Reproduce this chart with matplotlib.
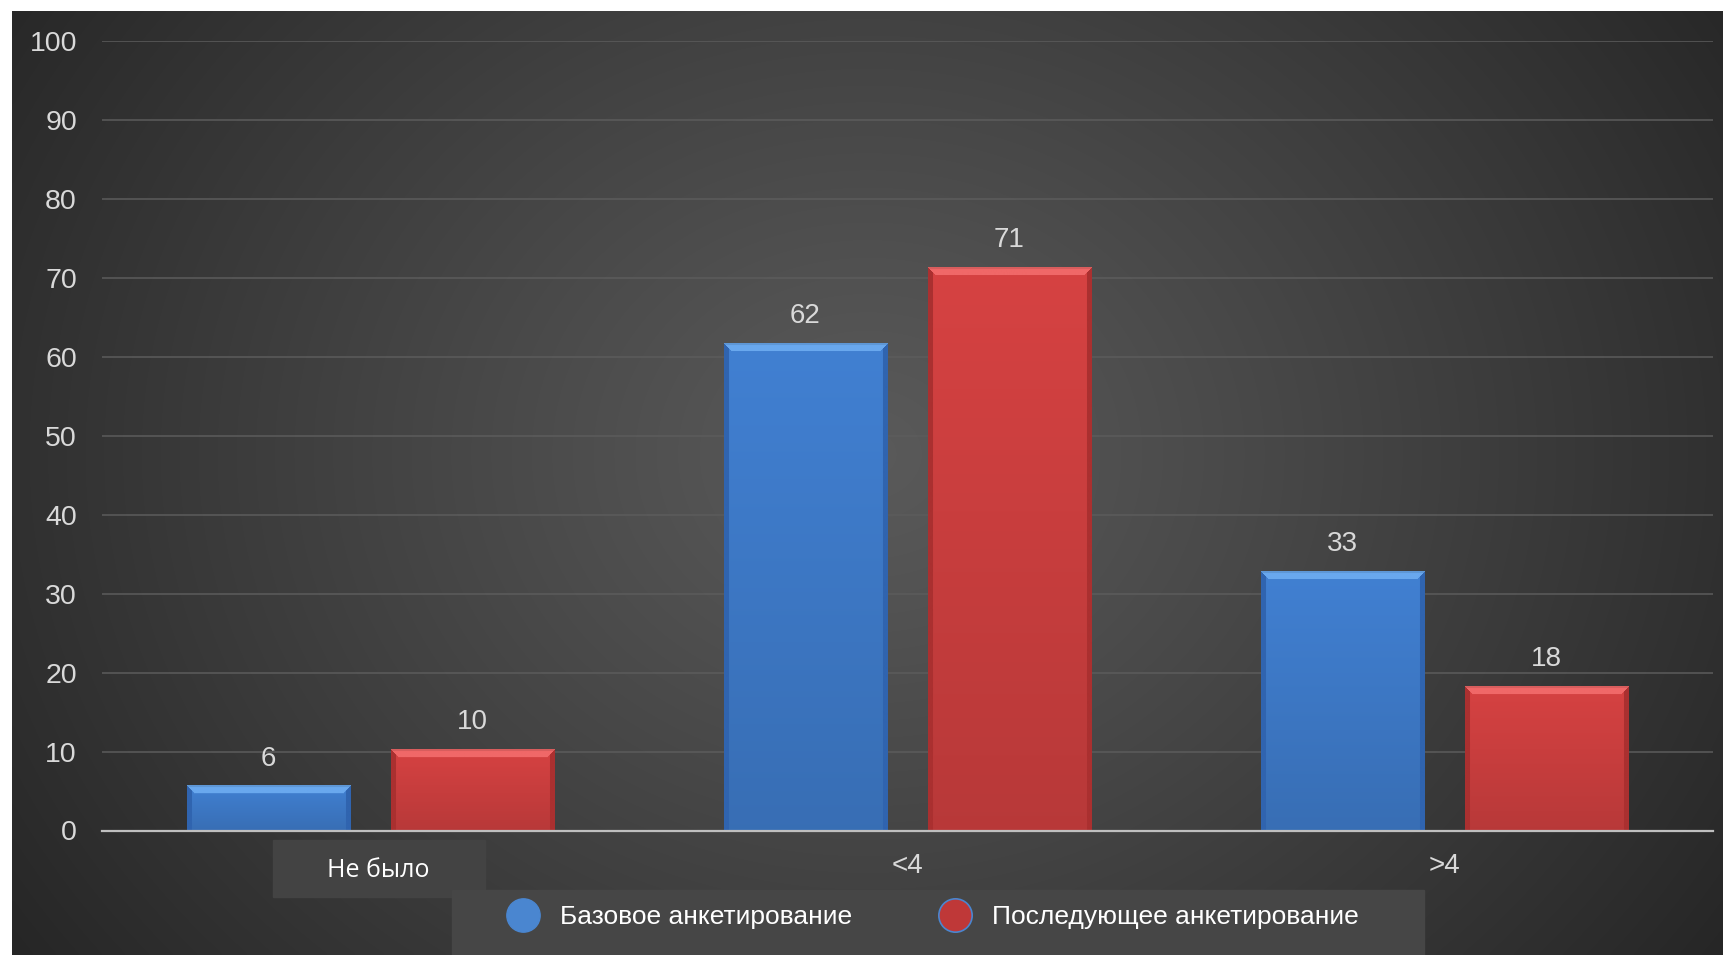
import numpy as np
import matplotlib
matplotlib.use("Agg")
import matplotlib.pyplot as plt
from matplotlib.lines import Line2D
from matplotlib.patches import Rectangle
from matplotlib import transforms

categories = ["Не было", "<4", ">4"]
series_names = ["Базовое анкетирование", "Последующее анкетирование"]
base_vals = [5.6, 61.6, 32.8]
follow_vals = [10.2, 71.3, 18.2]
y_ticks = [0, 10, 20, 30, 40, 50, 60, 70, 80, 90, 100]

W, H = 1724, 955
fig = plt.figure(figsize=(W / 100, H / 100), dpi=100)
fig.patch.set_facecolor("white")

# dark radial background (slightly inset, white margin top/left)
bg = fig.add_axes([12 / W, 0, 1 - 12 / W, 944 / H])
bg.set_zorder(-5)
gx, gy = np.meshgrid(np.linspace(0, 1, 400), np.linspace(0, 1, 250))
r = np.sqrt(((gx - 0.5) / 0.62) ** 2 + ((gy - 0.47) / 0.95) ** 2)
r = np.clip(r, 0, 1)
g = (0x5a - (0x5a - 0x25) * r ** 1.1) / 255
bg.imshow(np.dstack([g, g, g]), aspect="auto", extent=(0, 1, 0, 1), interpolation="bilinear")
bg.set_axis_off()

ax = fig.add_axes([102 / W, 1 - 830.5 / H, (1713 - 102) / W, (830.5 - 41) / H])
ax.set_facecolor("none")
x = np.arange(len(categories))
off, bw = 0.19, 0.304
ax.set_xlim(-0.5, len(categories) - 0.5)
ax.set_ylim(0, 100)

b1 = ax.bar(x - off, base_vals, bw, color="none", zorder=2)
b2 = ax.bar(x + off, follow_vals, bw, color="none", zorder=2)

def bevel(patch, base, light, side):
    x0, x1 = patch.get_x(), patch.get_x() + patch.get_width()
    h = patch.get_height()
    (px0, py0), (px1, py1) = ax.transData.transform([(x0, 0), (x1, h)])
    nw, nh = max(int(px1 - px0), 4), max(int(py1 - py0), 4)
    jj, ii = np.meshgrid(np.arange(nw), np.arange(nh))
    base = np.array(base) / 255
    img = base * (1 - 0.14 * (ii / nh))[..., None]
    dl, dr, dt = jj, nw - 1 - jj, ii
    top = (dt < 8) & (dt <= dl) & (dt <= dr)
    left = (dl < 5) & (dl < dt)
    right = (dr < 5) & (dr < dt)
    img[left | right] = np.array(side) / 255
    img[top] = np.array(light) / 255
    img[top & (dt < 2)] = np.array(light) / 255 * 0.9
    ax.imshow(img, extent=(x0, x1, 0, h), aspect="auto", zorder=2,
              interpolation="bilinear", origin="upper")

for p in b1:
    bevel(p, (65, 128, 210), (105, 168, 238), (48, 100, 175))
for p in b2:
    bevel(p, (214, 66, 66), (240, 104, 104), (170, 48, 48))

ax.set_xlim(-0.5, len(categories) - 0.5)
ax.set_ylim(0, 100)

for bars, vals in ((b1, base_vals), (b2, follow_vals)):
    for p, v in zip(bars, vals):
        ax.annotate(f"{v:.0f}", (p.get_x() + p.get_width() / 2, v), xytext=(0, 20),
                    textcoords="offset points", ha="center", va="center",
                    fontsize=20, color="#d9d9d9", family="Liberation Sans")

ax.set_yticks(y_ticks)
ax.set_yticklabels([str(t) for t in y_ticks], fontsize=20.5, color="#d9d9d9", family="Liberation Sans")
ax.tick_params(axis="y", length=0, pad=18)
ax.grid(axis="y", color="#5c5c5c", lw=1.1, zorder=0)
ax.set_axisbelow(True)
for s in ("top", "right", "left"):
    ax.spines[s].set_visible(False)
ax.spines["bottom"].set_color("#bfbfbf")
ax.spines["bottom"].set_linewidth(1.6)
ax.spines["bottom"].set_zorder(3)

ax.set_xticks(x)
ax.set_xticklabels([])
ax.tick_params(axis="x", length=0)
lab_tr = transforms.blended_transform_factory(ax.transData, ax.transAxes)
for i, c in enumerate(categories):
    if i == 0:
        fig.patches.append(Rectangle((273 / W, 1 - 897 / H), 212 / W, 57 / H,
                                     transform=fig.transFigure, color="#434343", zorder=-1))
        ax.text(x[i] + 0.015, -0.051, c, transform=lab_tr, ha="center", va="center",
                fontsize=18, color="white", family="Open Sans")
    else:
        ax.text(x[i], -0.045, c, transform=lab_tr, ha="center", va="center",
                fontsize=20, color="#d9d9d9", family="Liberation Sans")

# legend panel
fig.patches.append(Rectangle((452 / W, 0), (1424 - 452) / W, (955 - 890) / H,
                             transform=fig.transFigure, color="#464646", zorder=-1))
handles = [
    Line2D([], [], ls="none", marker="o", markersize=24, markerfacecolor="#4a86d0",
           markeredgecolor="#4a86d0"),
    Line2D([], [], ls="none", marker="o", markersize=24, markerfacecolor="#bf3838",
           markeredgecolor="#4a86d0", markeredgewidth=1.2),
]
leg = fig.legend(handles, series_names, loc="center left",
                 bbox_to_anchor=(507 / W, 1 - 917 / H), ncol=2, frameon=False,
                 borderpad=0, borderaxespad=0, handlelength=1.2, handletextpad=0.8,
                 columnspacing=3.3,
                 prop={"family": ["Liberation Sans Narrow", "Liberation Sans"], "size": 19})
for t in leg.get_texts():
    t.set_color("white")

fig.savefig("out.png", dpi=100, facecolor=fig.get_facecolor())
